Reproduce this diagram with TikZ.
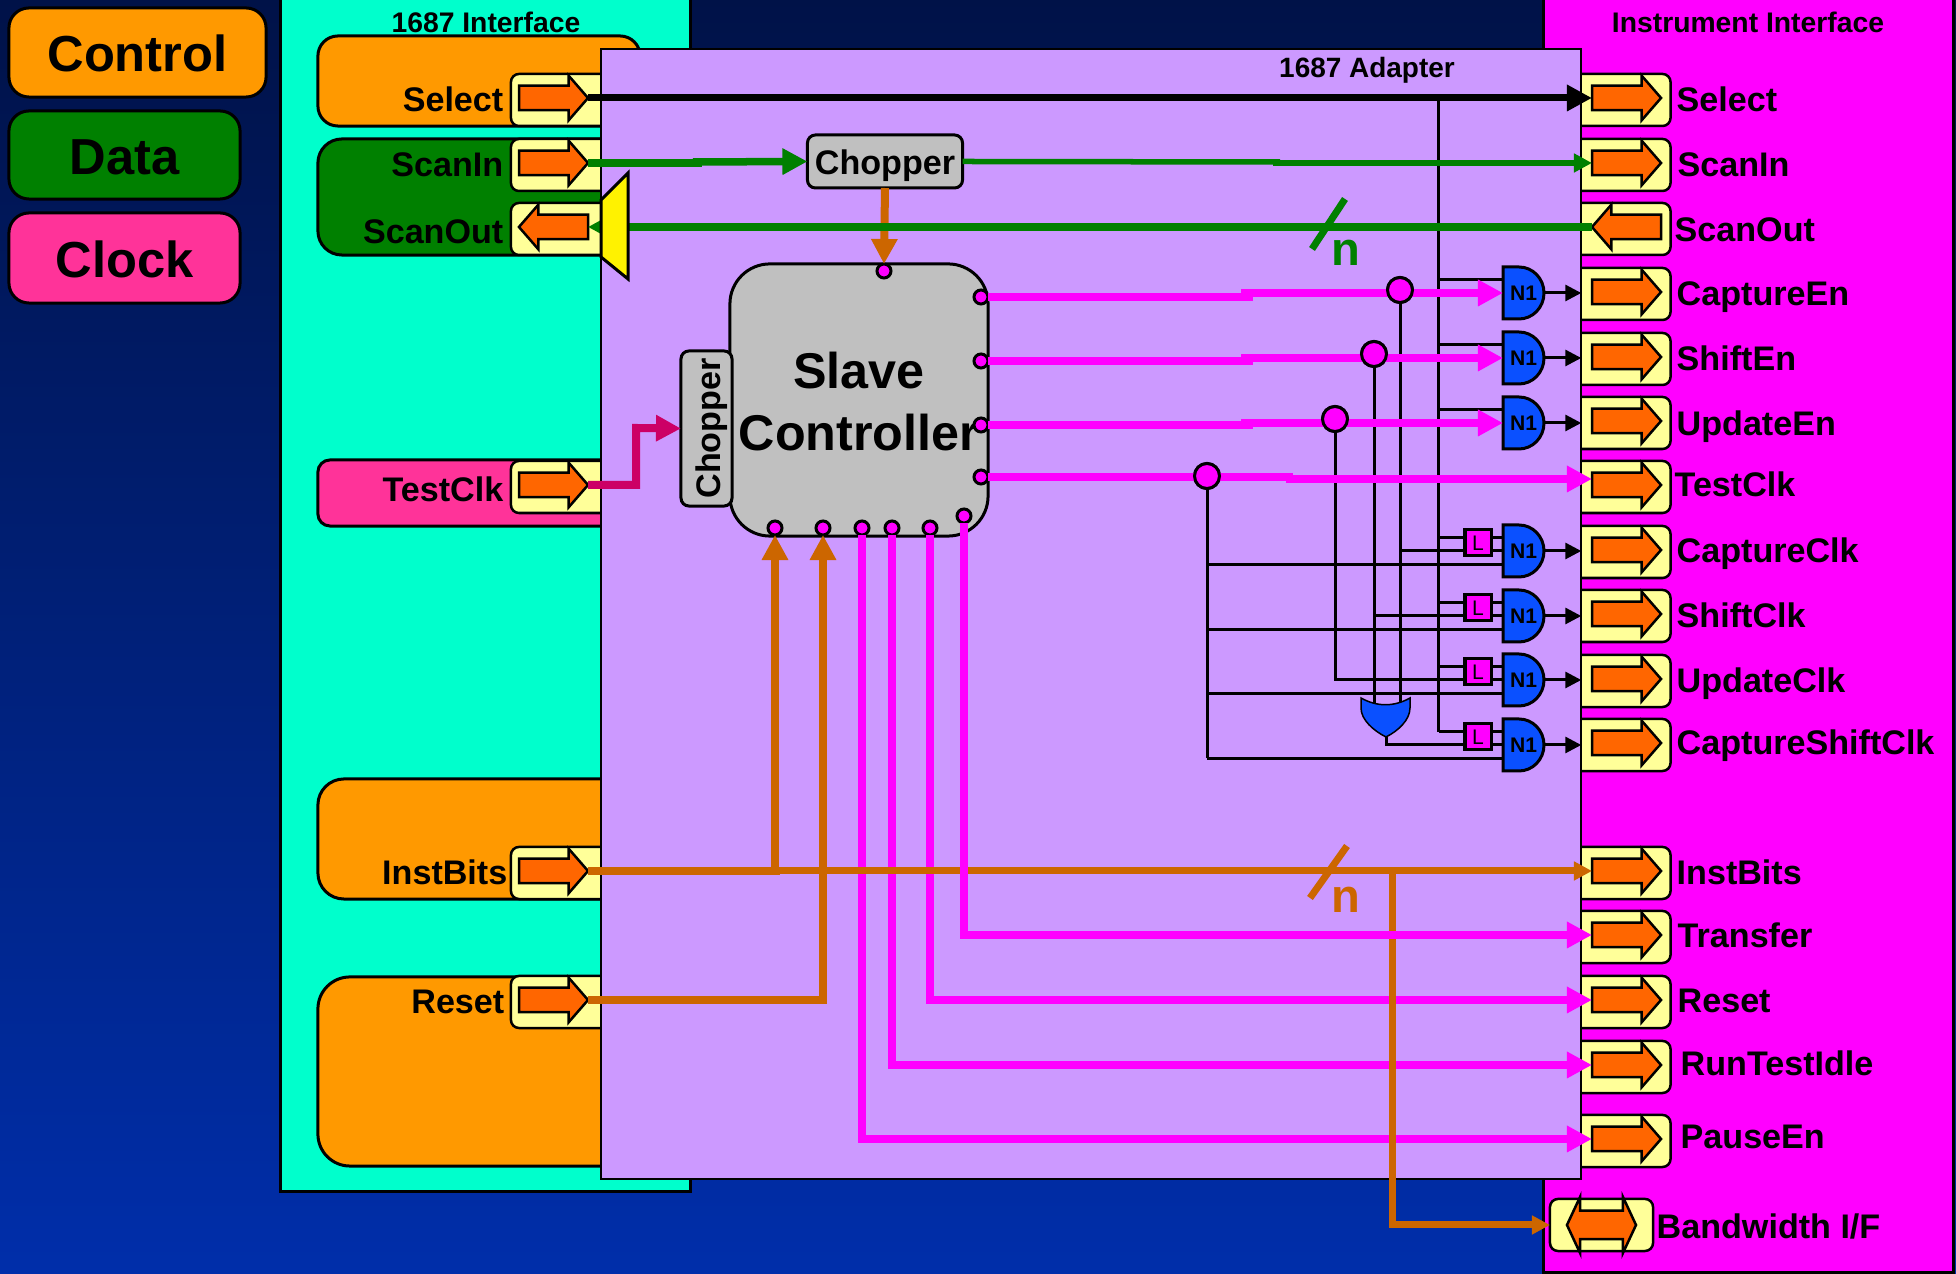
\documentclass[tikz,border=0pt]{standalone}
\usepackage{fontspec}
\usepackage{xcolor}
\usetikzlibrary{arrows.meta,shapes.arrows}
\setmainfont{Liberation Sans}
\definecolor{bgtop}{RGB}{0,18,72}
\definecolor{bgbot}{RGB}{0,46,170}
\definecolor{aqua}{RGB}{0,255,204}
\definecolor{lilac}{RGB}{204,153,255}
\definecolor{magen}{RGB}{255,0,255}
\definecolor{ctrlor}{RGB}{255,153,0}
\definecolor{datagr}{RGB}{0,128,0}
\definecolor{clkpink}{RGB}{255,51,153}
\definecolor{portyl}{RGB}{255,255,153}
\definecolor{portor}{RGB}{255,102,0}
\definecolor{wireor}{RGB}{204,102,0}
\definecolor{wirecr}{RGB}{204,0,102}
\definecolor{gateblue}{RGB}{10,80,255}
\definecolor{boxgray}{RGB}{192,192,192}
\tikzset{
	hv/.style={to path={-| (\tikztotarget)}},
	vh/.style={to path={|- (\tikztotarget)}},
	panelbox/.style 2 args={rectangle,draw=black,line width=0.3mm,outer sep=0pt,inner sep=0pt,
		minimum width=#1,minimum height=#2},
	portbox/.style={rectangle,draw=black,line width=0.25mm,fill=portyl,rounded corners=0.8mm,
		outer sep=0pt,minimum height=5.2mm},
	portarrow/.style={single arrow,draw=black,line width=0.25mm,fill=portor,outer sep=0pt,
		inner xsep=0pt,inner ysep=1.1mm,minimum height=6.9mm,minimum width=4.2mm,
		single arrow head extend=1mm,single arrow head indent=0mm,single arrow tip angle=98,anchor=tail},
	sig/.style={inner sep=0pt,text height=2.45mm,text depth=0pt,
		font=\fontsize{9.7}{11}\selectfont\bfseries},
	title/.style={inner sep=0pt,font=\fontsize{8.05}{10}\selectfont\bfseries},
	legend/.style={font=\fontsize{14.4}{17}\selectfont\bfseries,rounded corners=2mm,text height=3.85mm,text depth=0pt},
	chopbox/.style={rectangle,draw=black,line width=0.3mm,fill=boxgray,rounded corners=0.8mm,
		outer sep=0pt,inner sep=0pt,text height=2.7mm,text depth=0pt,font=\fontsize{9.7}{11}\selectfont\bfseries},
	pin/.style={circle,draw=black,line width=0.3mm,fill=magen,inner sep=0pt,outer sep=0pt,minimum size=1.4mm},
	tap/.style={circle,draw=black,line width=0.3mm,fill=magen,inner sep=0pt,outer sep=0pt,minimum size=2.5mm},
	gatebody/.style={draw=black,line width=0.3mm,fill=gateblue},
	gatelabel/.style={rectangle,inner sep=0pt,outer sep=0pt,minimum width=4.1mm,minimum height=5.2mm,
		text height=1.6mm,text depth=0pt,font=\fontsize{6}{7}\selectfont\bfseries},
	latch/.style={rectangle,draw=black,line width=0.3mm,fill=magen,inner sep=0pt,outer sep=0pt,
		minimum size=2.6mm,font=\fontsize{6}{7}\selectfont},
	busmark/.style={inner sep=0pt,font=\fontsize{13.4}{15}\selectfont\bfseries}
}
\begin{document}
\begin{tikzpicture}[x=0.01cm,y=-0.01cm]
	\useasboundingbox (0,0) rectangle (1956,1274);
	\shade [top color=bgtop,bottom color=bgbot] (0,0) rectangle (1956,1274);
	% side panels
	\node [panelbox={41mm}{119.6mm},fill=aqua,anchor=north west] (ifaceL) at (280,-5) {};
	\node [panelbox={41mm}{127.7mm},fill=magen,anchor=north west] (ifaceR) at (1543,-5) {};
	% legend
	\begin{scope}[every node/.style={draw=black,line width=0.3mm,inner sep=0pt}]
		\node [legend,fill=ctrlor,minimum width=25.7mm,minimum height=8.9mm] (ctrl) at (137.5,52.5) {Control};
		\node [legend,fill=datagr,minimum width=23.1mm,minimum height=8.8mm] (data) at (124.5,155) {Data};
		\node [legend,fill=clkpink,minimum width=23.1mm,minimum height=9mm] (clock) at (124.5,258) {Clock};
	\end{scope}
	% 1687 side groups
	\node [panelbox={32.2mm}{9mm},fill=ctrlor,rounded corners=2mm] (grpSel) at (479,81) {};
	\node [panelbox={32.2mm}{11.6mm},fill=datagr,rounded corners=2.4mm] (grpScan) at (479,197) {};
	\node [panelbox={32.2mm}{6.6mm},fill=clkpink,rounded corners=1.2mm] (grpClk) at (479,493) {};
	\node [panelbox={32.2mm}{12mm},fill=ctrlor,rounded corners=2.6mm] (grpInst) at (479,839) {};
	\node [panelbox={32.2mm}{18.9mm},fill=ctrlor,rounded corners=3.2mm] (grpRst) at (479,1071.5) {};
	% left ports
	\foreach \nm/\yy/\rr/\dy/\txt in {Select/98/504/1/Select,ScanIn/163/504/1/ScanIn,TestClk/485/504/4/TestClk,InstBits/871/508/1/InstBits,Reset/1000/505/1/Reset} {
		\node [portbox,minimum width=13mm] (lb\nm) at (576,\yy+2) {};
		\node [portarrow] (l\nm) at (519,\yy) {};
		\node [sig,anchor=east] (lt\nm) at (\rr,\yy+\dy) {\txt};
	}
	\node [portbox,minimum width=13mm] (lbScanOut) at (576,229) {};
	\node [portarrow,shape border rotate=180] (lScanOut) at (588,227) {};
	\node [sig,anchor=east] (ltScanOut) at (504,231) {ScanOut};
	% instrument side ports
	\foreach \nm/\yy/\xx/\dy/\txt in {Select/98/1676/1/Select,ScanIn/163/1677/1/ScanIn,CaptureEn/292/1676/1/CaptureEn,ShiftEn/357/1676/1/ShiftEn,
		UpdateEn/421/1676/2/UpdateEn,TestClk/485/1674/-1/TestClk,CaptureClk/550/1676/0/CaptureClk,ShiftClk/614/1676/1/ShiftClk,
		UpdateClk/679/1676/1/UpdateClk,CaptureShiftClk/743/1676/-1/CaptureShiftClk,InstBits/871/1676/1/InstBits,Transfer/935/1677/0/Transfer,
		Reset/1000/1677/0/Reset,RunTestIdle/1065/1680/-2/RunTestIdle,PauseEn/1139/1680/-3/PauseEn} {
		\node [portbox,minimum width=11.1mm] (rb\nm) at (1615,\yy+2) {};
		\node [portarrow] (r\nm) at (1592,\yy) {};
		\node [sig,anchor=west] (rt\nm) at (\xx,\yy+\dy) {\txt};
	}
	\node [portbox,minimum width=11.1mm] (rbScanOut) at (1615,229) {};
	\node [portarrow,shape border rotate=180] (rScanOut) at (1661,227) {};
	\node [sig,anchor=west] (rtScanOut) at (1674,229) {ScanOut};
	\node [portbox,minimum width=10.3mm] (rbBand) at (1601.5,1225) {};
	\node [double arrow,draw=black,line width=0.25mm,fill=portor,outer sep=0pt,inner xsep=0pt,inner ysep=1.3mm,
		minimum height=6.9mm,minimum width=5.4mm,double arrow head extend=1.4mm,double arrow head indent=0mm,
		double arrow tip angle=130] (rBand) at (1601.5,1225) {};
	\node [sig,anchor=west] (rtBand) at (1656,1226) {Bandwidth I/F};
	% adapter
	\node [panelbox={98mm}{113mm},fill=lilac,line width=0.2mm] (adapter) at (1091,614) {};
	\node [title] (ttlL) at (486,22) {1687 Interface};
	\node [title] (ttlR) at (1748,22) {Instrument Interface};
	\node [title,font=\fontsize{7.95}{10}\selectfont\bfseries] (ttlA) at (1367,70) {1687 Adapter};
	% slave and choppers
	\node [panelbox={25.8mm}{27.2mm},fill=boxgray,rounded corners=4mm,align=center,
		font=\fontsize{14.3}{17.6}\selectfont\bfseries] (slave) at (859,400) {Slave\rule{0pt}{4mm}\\Controller};
	\node [chopbox,minimum width=15.5mm,minimum height=5.1mm,rotate=90] (chopV) at (706.5,428.5) {Chopper};
	\node [chopbox,minimum width=15.5mm,minimum height=5.3mm] (chopH) at (885,161.5) {Chopper};
	% taps and named points
	\coordinate (trunkT) at (1438.5,98);
	\coordinate (trunkB) at (1438.5,732);
	\coordinate (stepx) at (1241,0);
	\coordinate (orA) at (1400,703);
	\coordinate (orB) at (1374,703);
	\coordinate (orOut) at (1386,737);
	\coordinate (bandT) at (1392,871);
	\node [tap] (tapA) at (1400,290) {};
	\node [tap] (tapB) at (1374,354) {};
	\node [tap] (tapC) at (1335,419) {};
	\node [tap] (tapD) at (1207,476) {};
	% gates
	\foreach \nm/\yy in {gA/293,gB/358,gC/423,gD/551,gE/616,gF/680,gG/745} {
		\node [gatelabel] (\nm) at (1523.5,\yy) {\phantom{N1}};
	}
	% thin wires
	\begin{scope}[every edge/.style={draw=black,line width=0.3mm},line width=0.3mm]
		\path (trunkT) edge (trunkB);
		\foreach \g in {gA,gB,gC,gD,gE,gF,gG} {
			\path ([yshift=1.35mm]\g.west) edge ([yshift=1.35mm]\g.west -| trunkT);
		}
		\foreach \g in {gD,gE,gF,gG} {
			\path ([yshift=-1.35mm]\g.west) edge ([yshift=-1.35mm]\g.west -| tapD.south);
		}
		\path (tapA.south) edge (orA);
		\path (tapB.south) edge (orB);
		\path (tapD.south) edge ([yshift=-1.35mm]gG.west -| tapD.south);
		\path (tapA.south |- gD.west) edge (gD.west);
		\path (tapB.south |- gE.west) edge (gE.west);
		\path (tapC.south) edge [vh] (gF.west);
		\path (orOut) edge [vh] (gG.west);
	\end{scope}
	\draw [line width=0.15mm,fill=gateblue] (1361,698) .. controls (1377,707) and (1394,707) .. (1410,698) -- (1410,708)
		.. controls (1410,720) and (1398,731) .. (orOut) .. controls (1374,731) and (1361,720) .. (1361,708) -- cycle;
	\foreach \nm/\yy in {gA/293,gB/358,gC/423,gD/551,gE/616,gF/680,gG/745} {
		\draw [gatebody] (1503,\yy-26) -- (1519,\yy-26) arc (-90:90:25 and 26) -- (1503,\yy+26) -- cycle;
		\node [gatelabel] at (\nm) {N1};
		\path [line width=0.3mm,-{Triangle[length=1.6mm,width=1.6mm]}] (\nm.east) edge (\nm.east -| adapter.east);
	}
	\foreach \g/\nm in {gD/ltA,gE/ltB,gF/ltC,gG/ltD} {
		\node [latch,anchor=center] (\nm) at ([yshift=0.8mm]\g.west -| 1478,0) {L};
	}
	% magenta signals
	\begin{scope}[>={Triangle[length=2.5mm,width=2.5mm]},line width=0.8mm,color=magen,
		every edge/.style={draw=magen,line width=0.8mm}]
		\node [pin] (pinA) at (981,297) {};
		\node [pin] (pinB) at (981,361) {};
		\node [pin] (pinC) at (981,425) {};
		\node [pin] (pinD) at (981,477) {};
		\node [pin] (pinI) at (862,528) {};
		\node [pin] (pinJ) at (892,528) {};
		\node [pin] (pinK) at (930,528) {};
		\node [pin] (pinL) at (964,516) {};
		\foreach \p/\g in {pinA/gA,pinB/gB,pinC/gC} {
			\path (\p.east) edge ([xshift=2.65cm]\p.east);
			\path [->] (stepx |- \g.west) edge (\g.west);
		}
		\path (pinD.east) edge ([xshift=3.05cm]pinD.east);
		\path [->] ([yshift=0.6mm,xshift=-3.06cm]rTestClk.tail) edge ([yshift=0.6mm]rTestClk.tail);
		\path [->] (pinK.south) edge [vh] (rReset.tail);
		\path [->] (pinJ.south) edge [vh] (rRunTestIdle.tail);
		\path [->] (pinI.south) edge [vh] (rPauseEn.tail);
	\end{scope}
	\node [tap] at (tapA) {};
	\node [tap] at (tapB) {};
	\node [tap] at (tapC) {};
	\node [tap] at (tapD) {};
	% orange signals
	\begin{scope}[>={Triangle[length=2.5mm,width=2.5mm]},
		every edge/.style={draw=wireor,line width=0.7mm}]
		\node [pin] (pinT) at (884,271) {};
		\node [pin] (pinG) at (775,528) {};
		\node [pin] (pinH) at (823,528) {};
		\path [->,line width=0.8mm] (chopH.south) edge [draw=wireor,line width=0.8mm] (pinT.north);
		\path [>={Triangle[length=1.8mm,width=1.8mm]},->] (lInstBits.tip) edge (rInstBits.tail);
		\path (lInstBits.tip) edge [line width=0.8mm] (780,871);
		\path [->] (pinG.south |- lInstBits.tip) edge [line width=0.85mm] (pinG.south);
		\path [->] (lReset.tip) edge [hv,line width=0.8mm] (pinH.south);
		\path [>={Triangle[length=1.8mm,width=1.8mm]},->] (bandT) edge [vh] (rbBand.west);
		\path (1310,898) edge [line width=0.7mm] (1347,846);
	\end{scope}
	\node [busmark,text=wireor] (nInst) at (1346,900) {n};
	\path [>={Triangle[length=2.5mm,width=2.5mm]},->] (pinL.south) edge [vh,draw=magen,line width=0.8mm] (rTransfer.tail);
	% crimson chopper feed
	\path [>={Triangle[length=2.5mm,width=2.5mm]},->] (lTestClk.tip) edge [draw=wirecr,line width=0.8mm,to path={-- (636,485) -- (636,428) -- (\tikztotarget)}] (chopV.north);
	% green signals
	\begin{scope}[>={Triangle[length=2.5mm,width=2.5mm]},
		every edge/.style={draw=datagr,line width=0.75mm}]
		\path (lScanIn.tip) edge (702,163);
		\path [->] (693,162) edge (chopH.west);
		\path (chopH.east) edge [line width=0.55mm] (1280,162);
		\path [>={Triangle[length=1.8mm,width=1.8mm]},->] (1273,163) edge [line width=0.55mm] (rScanIn.tail);
		\path [>={Triangle[length=1.8mm,width=1.8mm]},->] (rScanOut.tip) edge (lScanOut.tail);
		\path (1312,249) edge [line width=0.7mm] (1345,199);
	\end{scope}
	\node [busmark,text=datagr] (nData) at (1346,253) {n};
	% select line
	\path [line width=0.7mm,-{Triangle[length=2.5mm,width=2.5mm]}] (lSelect.tip) edge (rSelect.tail);
	\draw [line width=0.3mm,fill=yellow] (601,200) -- (628,173) -- (628,279) -- (601,257) -- cycle;
\end{tikzpicture}
\end{document}
